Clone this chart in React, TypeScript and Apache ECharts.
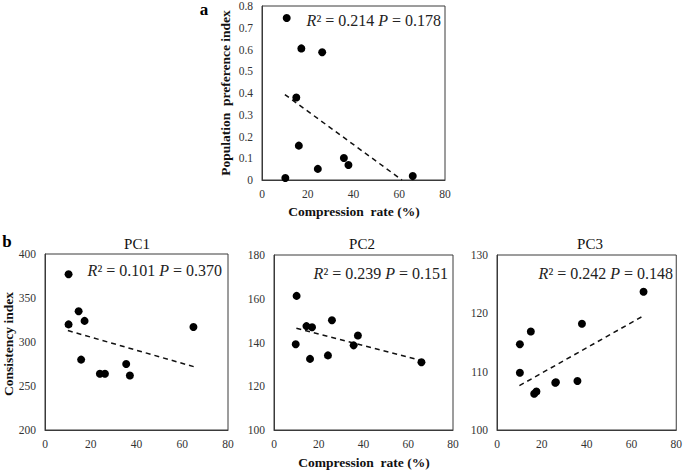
import React, { useEffect, useRef } from "react";
import * as echarts from "echarts";

// Panel a: population preference index vs compression rate
const compA = [10.8, 17.2, 26.3, 15.0, 16.1, 24.4, 35.8, 37.8, 10.2, 65.9];
const prefA = [0.745, 0.605, 0.587, 0.379, 0.158, 0.051, 0.101, 0.069, 0.009, 0.018];
const trendA = [[10, 0.393], [61.2, 0]];

// Panel b: consistency index
const compPC1 = [10.3, 14.7, 17.3, 10.3, 15.8, 24.0, 26.2, 35.5, 37.1, 64.9];
const valPC1 = [377, 335, 324, 320, 280, 264, 264, 275, 262, 317];
const trendPC1 = [[10, 313], [65, 272]];

const compPC2 = [10.1, 14.5, 17.0, 9.7, 16.1, 24.1, 25.9, 35.6, 37.5, 65.9];
const valPC2 = [161.3, 147.5, 147.0, 139.2, 132.5, 134.1, 150.2, 138.7, 143.2, 131.0];
const trendPC2 = [[10, 146.5], [65, 132]];

const compPC3 = [10.2, 10.2, 15.1, 16.6, 17.6, 26.3, 26.0, 35.9, 37.9, 65.4];
const valPC3 = [114.7, 109.8, 116.9, 106.2, 106.6, 108.2, 108.1, 108.4, 118.2, 123.7];
const trendPC3 = [[10, 107.6], [65.5, 119.6]];

const titles = ["PC1", "PC2", "PC3"];
const statsText = [
  ["0.214", "0.178"],
  ["0.101", "0.370"],
  ["0.239", "0.151"],
  ["0.242", "0.148"],
];
const yRanges = [
  [0, 0.8, 0.1],
  [200, 400, 50],
  [100, 180, 20],
  [100, 130, 10],
];

const FONT = "'Liberation Serif', 'Times New Roman', serif";

export default function App() {
  const ref = useRef<HTMLDivElement>(null);
  useEffect(() => {
    document.body.style.margin = "0";
    const chart = echarts.init(ref.current!, null, { renderer: "svg" });
    const grids = [
      { left: 262, top: 6, width: 183, height: 174 },
      { left: 45, top: 254, width: 183, height: 176 },
      { left: 274, top: 255, width: 179, height: 175 },
      { left: 497, top: 255, width: 181, height: 175 },
    ];
    const pts = [
      compA.map((x, i) => [x, prefA[i]]),
      compPC1.map((x, i) => [x, valPC1[i]]),
      compPC2.map((x, i) => [x, valPC2[i]]),
      compPC3.map((x, i) => [x, valPC3[i]]),
    ];
    const trends = [trendA, trendPC1, trendPC2, trendPC3];
    const axisCommon = {
      axisLine: { show: true, lineStyle: { color: "#3a3a3a", width: 1 } },
      axisTick: { show: false },
      splitLine: { show: false },
      axisLabel: { color: "#333", fontFamily: FONT, fontSize: 11.5 },
    };
    const statPos = [
      [441, 20],
      [222, 270],
      [448, 273],
      [673, 273],
    ];
    const graphic: any[] = [];
    statsText.forEach((s, i) => {
      graphic.push({
        type: "text",
        x: statPos[i][0],
        y: statPos[i][1],
        style: {
          text: `{i|R}{n|² = ${s[0]} }{i|P}{n| = ${s[1]}}`,
          align: "right",
          verticalAlign: "middle",
          rich: {
            i: { fontFamily: FONT, fontStyle: "italic", fontSize: 16, fill: "#222" },
            n: { fontFamily: FONT, fontSize: 16, fill: "#222" },
          },
        },
      });
    });
    const titleX = [137, 362, 590];
    titles.forEach((t, i) => {
      graphic.push({
        type: "text",
        x: titleX[i],
        y: 244,
        style: { text: t, align: "center", verticalAlign: "middle", fontFamily: FONT, fontSize: 15, fill: "#111" },
      });
    });
    const nameStyle = { align: "center", verticalAlign: "middle", fontFamily: FONT, fontWeight: "bold", fontSize: 13.5, fill: "#111" };
    graphic.push(
      { type: "text", x: 204, y: 9, style: { text: "a", align: "center", verticalAlign: "middle", fontFamily: FONT, fontWeight: "bold", fontSize: 17, fill: "#000" } },
      { type: "text", x: 7, y: 241, style: { text: "b", align: "center", verticalAlign: "middle", fontFamily: FONT, fontWeight: "bold", fontSize: 17, fill: "#000" } },
      { type: "text", x: 225, y: 93, rotation: Math.PI / 2, style: { ...nameStyle, text: "Population  preference index" } },
      { type: "text", x: 354, y: 211, style: { ...nameStyle, text: "Compression  rate (%)" } },
      { type: "text", x: 364, y: 462, style: { ...nameStyle, text: "Compression  rate (%)" } },
      { type: "text", x: 8, y: 344, rotation: Math.PI / 2, style: { ...nameStyle, text: "Consistency index" } }
    );

    const series: any[] = [];
    for (let i = 0; i < 4; i++) {
      series.push({
        type: "line",
        xAxisIndex: i,
        yAxisIndex: i,
        data: trends[i],
        symbol: "none",
        lineStyle: { color: "#111", width: 1.5, type: [5, 4] },
        z: 2,
      });
      series.push({
        type: "scatter",
        xAxisIndex: i,
        yAxisIndex: i,
        data: pts[i],
        symbol: "circle",
        symbolSize: 8,
        itemStyle: { color: "#000", opacity: 1 },
        z: 3,
      });
    }

    chart.setOption({
      animation: false,
      backgroundColor: "#fff",
      grid: grids.map((g) => ({ ...g, show: true, borderColor: "#3a3a3a", borderWidth: 1, containLabel: false })),
      xAxis: grids.map((_, i) => ({
        ...axisCommon,
        gridIndex: i,
        type: "value",
        min: 0,
        max: 80,
        interval: 20,
        axisLabel: { ...axisCommon.axisLabel, margin: 8 },
      })),
      yAxis: grids.map((_, i) => ({
        ...axisCommon,
        gridIndex: i,
        type: "value",
        min: yRanges[i][0],
        max: yRanges[i][1],
        interval: yRanges[i][2],
        axisLabel: { ...axisCommon.axisLabel, margin: 9 },
      })),
      graphic,
      series,
    });
    return () => chart.dispose();
  }, []);
  return <div ref={ref} style={{ width: 685, height: 471 }} />;
}
